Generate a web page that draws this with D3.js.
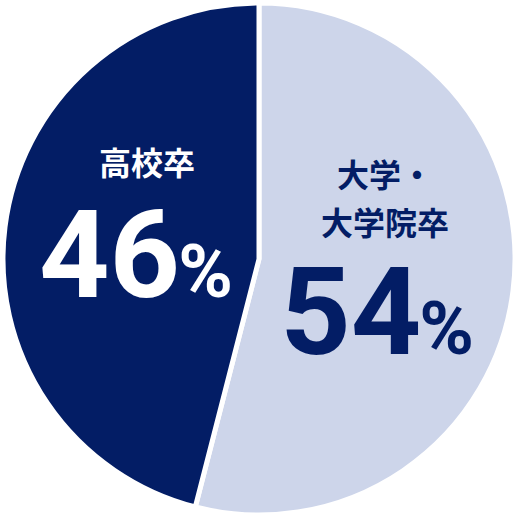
<!DOCTYPE html>
<html>
<head>
<meta charset="utf-8">
<script src="https://cdn.jsdelivr.net/npm/d3@7"></script>
<style>
  html, body { margin: 0; padding: 0; background: #fff; }
  svg { display: block; }
</style>
</head>
<body>
<div id="chart"></div>
<script>
const categories = ["大学・大学院卒", "高校卒"];
const labelLines = [["大学・", "大学院卒"], ["高校卒"]];
const values = [54, 46];
const colors = ["#cdd5ea", "#031d65"];
const textColors = ["#031d65", "#ffffff"];

const W = 520, H = 520;
const cx = 259, cy = 259, R = 256;

const svg = d3.select("#chart").append("svg").attr("width", W).attr("height", H);
const g = svg.append("g").attr("transform", `translate(${cx},${cy})`);

const pie = d3.pie().sort(null).value(d => d.v);
const arc = d3.arc().innerRadius(0).outerRadius(R);
const labelArc = d3.arc().innerRadius(118).outerRadius(118);

const data = pie(categories.map((c, i) => ({ c, v: values[i], i })));

g.selectAll("path.slice")
  .data(data)
  .join("path")
  .attr("class", "slice")
  .attr("d", arc)
  .attr("fill", d => colors[d.data.i])
  .attr("stroke", "#fff")
  .attr("stroke-width", 5)
  .attr("stroke-linejoin", "round");

// label layout: offsets from centroid (title lines, then big number)
const layout = [
  { dx: 9, numDx: -8, lines: [-87, -39], num: 80 },
  { dx: 5, numDx: -11, lines: [-69], num: 53 }
];

const cjk = "'Noto Sans CJK JP', 'Noto Sans', sans-serif";
const latin = "Roboto, 'Noto Sans', sans-serif";

const labels = g.selectAll("g.label")
  .data(data)
  .join("g")
  .attr("class", "label")
  .attr("transform", d => {
    const [x, y] = labelArc.centroid(d);
    return `translate(${x + layout[d.data.i].dx},${y})`;
  });

labels.each(function (d) {
  const i = d.data.i;
  const sel = d3.select(this);
  labelLines[i].forEach((line, k) => {
    sel.append("text")
      .attr("y", layout[i].lines[k])
      .attr("text-anchor", "middle")
      .attr("fill", textColors[i])
      .style("font-family", cjk)
      .style("font-weight", 700)
      .style("font-size", "32px")
      .text(line);
  });
  const t = sel.append("text")
    .attr("x", layout[i].numDx)
    .attr("y", layout[i].num)
    .attr("text-anchor", "middle")
    .attr("fill", textColors[i])
    .style("font-family", latin)
    .style("font-weight", 700);
  t.append("tspan").style("font-size", "123px").text(values[i]);
  t.append("tspan").style("font-size", "74px").attr("dx", -2).text("%");
});
</script>
</body>
</html>
